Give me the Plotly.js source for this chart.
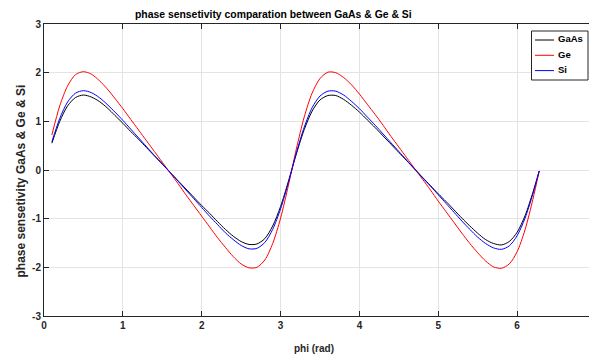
<!DOCTYPE html>
<html>
<head>
<meta charset="utf-8">
<script src="https://cdn.plot.ly/plotly-3.0.1.min.js"></script>
<style>
html,body{margin:0;padding:0;overflow:hidden;background:#fff;}
#chart{width:600px;height:356px;}
</style>
</head>
<body>
<div id="chart"></div>
<script>
var phi = [0.1,0.2,0.3,0.4,0.5,0.6,0.7,0.8,0.9,1.0,1.1,1.2,1.3,1.4,1.5,1.6,1.7,1.8,1.9,2.0,2.1,2.2,2.3,2.4,2.5,2.6,2.7,2.8,2.9,3.0,3.1,3.2,3.3,3.4,3.5,3.6,3.7,3.8,3.9,4.0,4.1,4.2,4.3,4.4,4.5,4.6,4.7,4.8,4.9,5.0,5.1,5.2,5.3,5.4,5.5,5.6,5.7,5.8,5.9,6.0,6.1,6.2,6.28];

var gaas = [0.55,1.00,1.32,1.49,1.54,1.50,1.41,1.28,1.12,0.96,0.79,0.63,0.46,0.29,0.12,-0.05,-0.22,-0.39,-0.56,-0.73,-0.89,-1.06,-1.22,-1.36,-1.47,-1.53,-1.52,-1.41,-1.15,-0.75,-0.23,0.33,0.83,1.21,1.44,1.53,1.53,1.45,1.33,1.19,1.03,0.87,0.70,0.53,0.36,0.19,0.02,-0.15,-0.32,-0.49,-0.65,-0.82,-0.99,-1.15,-1.30,-1.43,-1.51,-1.54,-1.47,-1.28,-0.94,-0.46,-0.02];

var ge = [0.72,1.32,1.73,1.96,2.02,1.97,1.84,1.67,1.47,1.26,1.04,0.82,0.60,0.38,0.16,-0.06,-0.28,-0.51,-0.73,-0.95,-1.17,-1.39,-1.59,-1.78,-1.93,-2.01,-2.00,-1.85,-1.51,-0.99,-0.31,0.43,1.09,1.58,1.88,2.01,2.00,1.90,1.75,1.56,1.35,1.14,0.92,0.69,0.47,0.25,0.03,-0.19,-0.41,-0.64,-0.86,-1.08,-1.30,-1.51,-1.70,-1.87,-1.99,-2.02,-1.93,-1.68,-1.23,-0.60,-0.02];

var si = [0.58,1.06,1.40,1.58,1.63,1.59,1.49,1.35,1.19,1.02,0.84,0.66,0.48,0.30,0.13,-0.05,-0.23,-0.41,-0.59,-0.77,-0.95,-1.12,-1.29,-1.43,-1.55,-1.62,-1.61,-1.49,-1.22,-0.80,-0.25,0.35,0.88,1.28,1.52,1.62,1.62,1.54,1.41,1.26,1.09,0.92,0.74,0.56,0.38,0.20,0.02,-0.16,-0.33,-0.51,-0.69,-0.87,-1.05,-1.22,-1.38,-1.51,-1.60,-1.63,-1.56,-1.35,-0.99,-0.49,-0.02];

var seriesNames = ['GaAs','Ge','Si'];
var seriesColors = ['#000000','#ff0000','#0000ff'];
var xTicks = [0,1,2,3,4,5,6];
var yTicks = [-3,-2,-1,0,1,2,3];

var FONT = 'Liberation Sans, Arial, Helvetica, sans-serif';
var ys = [gaas, ge, si];
var traces = ys.map(function(y, i){
  return {x: phi, y: y, name: seriesNames[i], type: 'scatter', mode: 'lines', showlegend: false,
          line: {color: seriesColors[i], width: 1, shape: 'spline', smoothing: 0.8}};
});

/* pixel -> paper helpers (plot area: x 44..596, y 24..316) */
function px(v){ return (v - 44) / 552; }
function py(v){ return (316 - v) / 292; }

var axisCommon = {
  showgrid: true, gridcolor: '#e3e3e3', gridwidth: 1,
  zeroline: false, showline: true, linecolor: '#262626', linewidth: 1,
  mirror: 'ticks', ticks: 'inside', ticklen: 5, tickcolor: '#262626', tickwidth: 1,
  tickfont: {family: FONT, size: 10, color: '#262626', weight: 'bold'}
};

/* legend box drawn in MATLAB style */
var shapes = [{type: 'rect', xref: 'paper', yref: 'paper', x0: px(531.5), x1: px(588), y0: py(80), y1: py(31),
               line: {color: '#262626', width: 1}, fillcolor: '#ffffff', layer: 'above'}];
var annotations = [];
seriesNames.forEach(function(n, i){
  var rowY = 40 + i * 15.3;
  shapes.push({type: 'line', xref: 'paper', yref: 'paper', x0: px(535), x1: px(554), y0: py(rowY), y1: py(rowY),
               line: {color: seriesColors[i], width: 1}, layer: 'above'});
  annotations.push({text: n, xref: 'paper', yref: 'paper', x: px(555.5), y: py(rowY - 1), xanchor: 'left', yanchor: 'middle',
                    showarrow: false, font: {family: FONT, size: 9.5, color: '#000', weight: 'bold'}});
});

annotations.push(
  {text: 'phase sensetivity comparation between GaAs & Ge & Si', xref: 'paper', yref: 'paper',
   x: px(273.5), y: py(14), xanchor: 'center', yanchor: 'middle', showarrow: false,
   font: {family: FONT, size: 10.4, color: '#000', weight: 'bold'}},
  {text: 'phi (rad)', xref: 'paper', yref: 'paper',
   x: px(313.5), y: py(348), xanchor: 'center', yanchor: 'middle', showarrow: false,
   font: {family: FONT, size: 10, color: '#262626', weight: 'bold'}},
  {text: 'phase sensetivity GaAs & Ge & Si', xref: 'paper', yref: 'paper', textangle: -90,
   x: px(20), y: py(181.5), xanchor: 'center', yanchor: 'middle', showarrow: false,
   font: {family: FONT, size: 12, color: '#262626', weight: 'bold'}}
);

var layout = {
  width: 600, height: 356,
  margin: {l: 44, r: 4, t: 24, b: 40},
  paper_bgcolor: '#ffffff', plot_bgcolor: '#ffffff',
  showlegend: false,
  xaxis: Object.assign({}, axisCommon, {range: [0, 7], tickvals: xTicks, ticktext: xTicks.map(String)}),
  yaxis: Object.assign({}, axisCommon, {range: [-3, 3], tickvals: yTicks, ticktext: yTicks.map(String)}),
  shapes: shapes,
  annotations: annotations
};

Plotly.newPlot('chart', traces, layout, {displayModeBar: false, staticPlot: true});
</script>
</body>
</html>
